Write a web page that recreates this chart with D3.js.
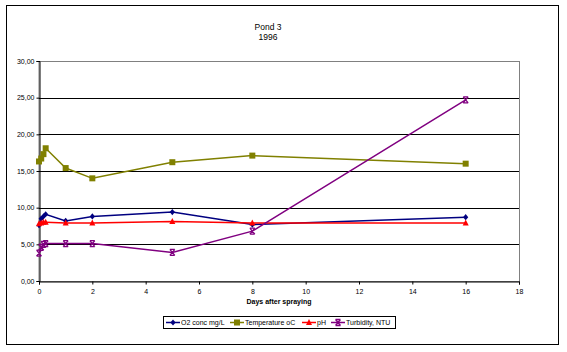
<!DOCTYPE html>
<html><head><meta charset="utf-8">
<script src="https://cdn.jsdelivr.net/npm/d3@7"></script>
<style>body{margin:0;background:#fff;}svg{display:block;font-family:Arial,"Liberation Sans",sans-serif;}</style>
</head><body>
<svg id="c" width="567" height="352"></svg>
<script>
const days = [0, 0.083, 0.167, 0.25, 1, 2, 5, 8, 16];
const o2 = [7.6, 8.5, 8.8, 9.1, 8.2, 8.8, 9.4, 7.7, 8.7];
const temperature = [16.3, 16.7, 17.3, 18.1, 15.4, 14.0, 16.2, 17.1, 16.0];
const ph = [7.8, 7.9, 8.0, 8.0, 7.9, 7.9, 8.1, 7.9, 7.9];
const turbidity = [3.8, 4.6, 5.0, 5.1, 5.1, 5.1, 3.9, 6.8, 24.7];
const seriesNames = ["O2 conc mg/L", "Temperature oC", "pH", "Turbidity, NTU"];
const seriesColors = ["#000080", "#808000", "#ff0000", "#800080"];
const seriesMarkers = ["diamond", "square", "triangle", "star"];
const xTicks = [0, 2, 4, 6, 8, 10, 12, 14, 16, 18];
const yTicks = [0, 5, 10, 15, 20, 25, 30];
const titleLines = ["Pond 3", "1996"];
const xTitle = "Days after spraying";

const svg = d3.select("#c");
const L = 39, R = 519, T = 61, B = 281;
const x = d3.scaleLinear().domain([0, 18]).range([L, R]);
const y = d3.scaleLinear().domain([0, 30]).range([B, T]);

// outer chart border
svg.append("rect").attr("x", 6.5).attr("y", 5.5).attr("width", 552).attr("height", 339)
  .attr("fill", "#fff").attr("stroke", "#000").attr("stroke-width", 1);

// title
svg.append("text").attr("x", 268).attr("y", 30).attr("text-anchor", "middle")
  .attr("font-size", 8.5).text(titleLines[0]);
svg.append("text").attr("x", 268).attr("y", 40).attr("text-anchor", "middle")
  .attr("font-size", 8.5).text(titleLines[1]);

// plot area border (gray)
svg.append("rect").attr("x", L).attr("y", T + 0.5).attr("width", R - L + 0.5).attr("height", B - T)
  .attr("fill", "none").attr("stroke", "#808080").attr("stroke-width", 1);

// gridlines
svg.append("g").selectAll("line").data(yTicks.filter(d => d > 0 && d < 30)).join("line")
  .attr("x1", L).attr("x2", R).attr("y1", d => Math.round(y(d)) + 0.5).attr("y2", d => Math.round(y(d)) + 0.5)
  .attr("stroke", "#000").attr("stroke-width", 1);

// axes
const fmt = d => d3.format(".2f")(d).replace(".", ",");
const yAxis = svg.append("g").attr("transform", `translate(${L + 0.5},0)`)
  .call(d3.axisLeft(y).tickValues(yTicks).tickFormat(fmt).tickSize(3).tickPadding(2));
const xAxis = svg.append("g").attr("transform", `translate(0,${B + 0.5})`)
  .call(d3.axisBottom(x).tickValues(xTicks).tickSize(3).tickPadding(5));
[yAxis, xAxis].forEach(g => {
  g.select(".domain").attr("stroke", "#000");
  g.selectAll(".tick line").attr("stroke", "#000");
  g.selectAll("text").attr("font-size", 7).attr("fill", "#000").attr("font-family", "Arial, Liberation Sans, sans-serif");
});

// x title
svg.append("text").attr("x", 279).attr("y", 304).attr("text-anchor", "middle")
  .attr("font-size", 7).attr("font-weight", "bold").text(xTitle);

function marker(g, type, cx, cy, color) {
  const s = 2.6;
  if (type === "diamond") {
    g.append("path").attr("d", `M${cx},${cy - s - 0.5}L${cx + s},${cy}L${cx},${cy + s + 0.5}L${cx - s},${cy}Z`).attr("fill", color);
  } else if (type === "square") {
    g.append("rect").attr("x", cx - 3).attr("y", cy - 3).attr("width", 6).attr("height", 6).attr("fill", color);
  } else if (type === "triangle") {
    g.append("path").attr("d", `M${cx},${cy - 3.5}L${cx + 3},${cy + 2.5}L${cx - 3},${cy + 2.5}Z`).attr("fill", color);
  } else {
    g.append("path").attr("d", `M${cx - 2.5},${cy - 3}L${cx + 2.5},${cy + 3}M${cx + 2.5},${cy - 3}L${cx - 2.5},${cy + 3}M${cx - 2.5},${cy - 3}H${cx + 2.5}M${cx - 2.5},${cy + 3}H${cx + 2.5}`)
      .attr("stroke", color).attr("stroke-width", 1.3).attr("fill", "none");
  }
}

const allSeries = [o2, temperature, ph, turbidity];
const line = d3.line().x(d => x(d[0])).y(d => y(d[1]));
allSeries.forEach((vals, i) => {
  const pts = days.map((d, j) => [d, vals[j]]);
  const g = svg.append("g");
  g.append("path").attr("d", line(pts)).attr("fill", "none")
    .attr("stroke", seriesColors[i]).attr("stroke-width", 1.5);
  pts.forEach(p => marker(g, seriesMarkers[i], x(p[0]), y(p[1]), seriesColors[i]));
});

// legend
const lg = svg.append("g");
lg.append("rect").attr("x", 163.5).attr("y", 316.5).attr("width", 232).attr("height", 12)
  .attr("fill", "#fff").attr("stroke", "#000").attr("stroke-width", 1);
const legendX = [166, 230, 302, 331];
seriesNames.forEach((n, i) => {
  const lx = legendX[i], ly = 322.5;
  lg.append("line").attr("x1", lx).attr("x2", lx + 14).attr("y1", ly).attr("y2", ly)
    .attr("stroke", seriesColors[i]).attr("stroke-width", 1.5);
  marker(lg, seriesMarkers[i], lx + 7, ly, seriesColors[i]);
  lg.append("text").attr("x", lx + 15).attr("y", ly + 2.5).attr("font-size", 7).text(n);
});
</script>
</body></html>
